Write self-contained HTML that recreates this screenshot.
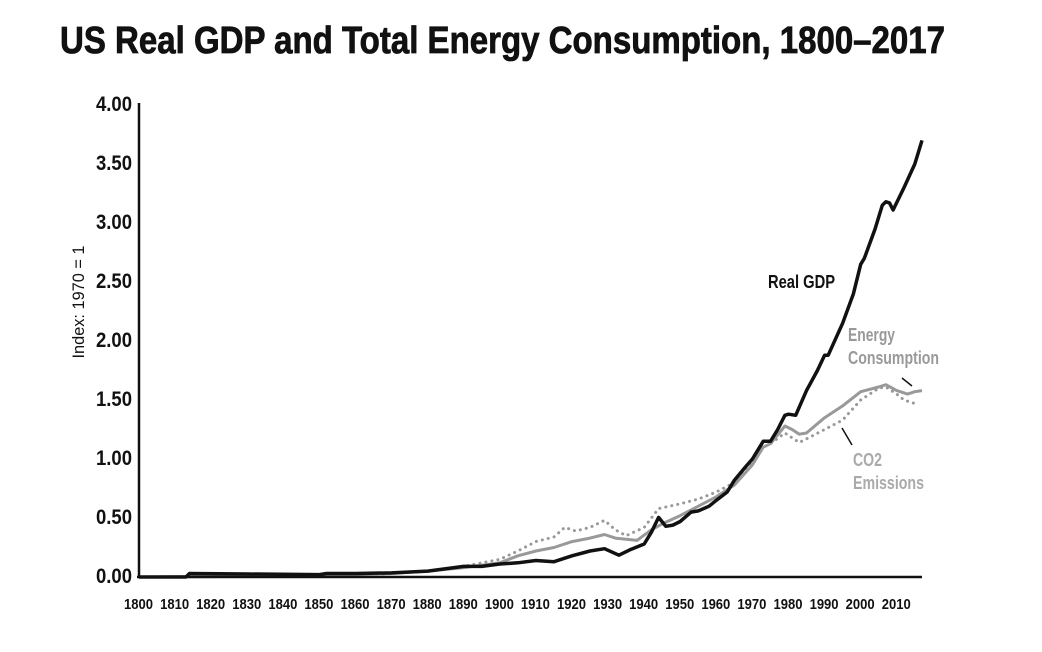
<!DOCTYPE html>
<html><head><meta charset="utf-8">
<style>
body{margin:0;background:#fff;}
svg{display:block;font-family:"Liberation Sans Narrow","Liberation Sans",sans-serif;}
</style></head>
<body>
<svg id="chart" width="1042" height="652" viewBox="0 0 1042 652">
<text x="60" y="53" font-size="38" font-weight="bold" fill="#111" stroke="#111" stroke-width="0.8" textLength="885" lengthAdjust="spacingAndGlyphs">US Real GDP and Total Energy Consumption, 1800–2017</text>
<g id="yticks"></g>
<g id="xticks"></g>
<text transform="translate(84,302) rotate(-90)" text-anchor="middle" font-size="17" fill="#111" textLength="113" lengthAdjust="spacingAndGlyphs">Index: 1970 = 1</text>
<g id="series"></g>
<line x1="139" y1="103" x2="139" y2="578" stroke="#111" stroke-width="2.5"/>
<line x1="137" y1="577" x2="922" y2="577" stroke="#111" stroke-width="2.5"/>
<text x="768" y="288" font-size="18" font-weight="bold" fill="#111" textLength="67" lengthAdjust="spacingAndGlyphs">Real GDP</text>
<text x="848" y="341" font-size="18" font-weight="bold" fill="#999" textLength="47" lengthAdjust="spacingAndGlyphs">Energy</text>
<text x="848" y="364" font-size="18" font-weight="bold" fill="#999" textLength="91" lengthAdjust="spacingAndGlyphs">Consumption</text>
<line x1="902" y1="378" x2="912" y2="386" stroke="#111" stroke-width="1.5"/>
<text x="853" y="466" font-size="18" font-weight="bold" fill="#aaa" textLength="29" lengthAdjust="spacingAndGlyphs">CO2</text>
<text x="853" y="489" font-size="18" font-weight="bold" fill="#aaa" textLength="71" lengthAdjust="spacingAndGlyphs">Emissions</text>
<line x1="842" y1="428" x2="852" y2="445" stroke="#111" stroke-width="1.5"/>
</svg>
<script>
const yTickValues=[0,0.5,1,1.5,2,2.5,3,3.5,4];
const xTickYears=[1800,1810,1820,1830,1840,1850,1860,1870,1880,1890,1900,1910,1920,1930,1940,1950,1960,1970,1980,1990,2000,2010];
const gdpYears=[1800,1813,1814,1830,1850,1852,1860,1870,1880,1890,1895,1900,1905,1910,1915,1920,1925,1929,1933,1936,1940,1942,1944,1946,1948,1950,1953,1955,1958,1960,1963,1965,1968,1970,1973,1975,1977,1979,1980,1982,1985,1988,1990,1991,1995,1998,2000,2001,2004,2006,2007,2008,2009,2012,2015,2016,2017];
const gdpValues=[0.0,0.0,0.03,0.025,0.02,0.03,0.03,0.035,0.05,0.09,0.09,0.11,0.12,0.14,0.13,0.18,0.22,0.24,0.185,0.23,0.28,0.38,0.505,0.43,0.44,0.47,0.55,0.56,0.6,0.65,0.72,0.82,0.93,1.0,1.15,1.15,1.25,1.37,1.38,1.37,1.58,1.75,1.88,1.88,2.15,2.4,2.65,2.70,2.95,3.15,3.18,3.17,3.11,3.3,3.5,3.6,3.70];
const energyYears=[1800,1850,1860,1870,1880,1890,1900,1905,1910,1915,1920,1925,1929,1932,1935,1938,1942,1945,1950,1955,1960,1965,1970,1973,1975,1979,1981,1983,1985,1990,1995,2000,2005,2007,2010,2013,2015,2017];
const energyValues=[0.0,0.01,0.02,0.03,0.05,0.08,0.12,0.18,0.22,0.25,0.30,0.33,0.36,0.33,0.32,0.31,0.40,0.45,0.52,0.60,0.68,0.78,0.95,1.10,1.13,1.28,1.25,1.21,1.22,1.35,1.45,1.57,1.61,1.63,1.58,1.55,1.57,1.58];
const co2Years=[1800,1850,1860,1870,1880,1890,1900,1905,1910,1915,1918,1921,1925,1929,1932,1935,1940,1944,1950,1955,1960,1965,1970,1973,1975,1979,1981,1983,1985,1990,1995,2000,2005,2007,2010,2012,2015];
const co2Values=[0.0,0.01,0.02,0.03,0.05,0.09,0.15,0.22,0.30,0.34,0.42,0.39,0.42,0.48,0.40,0.35,0.42,0.58,0.62,0.66,0.72,0.80,0.98,1.10,1.13,1.22,1.18,1.14,1.17,1.25,1.33,1.50,1.60,1.61,1.55,1.50,1.47];

const NS='http://www.w3.org/2000/svg';
function xs(yr){return 139+(yr-1800)*(922-139)/217;}
function ys(v){return 577-v*118;}
const yt=document.getElementById('yticks');
yTickValues.forEach(v=>{
  const t=document.createElementNS(NS,'text');
  
  
  t.setAttribute('x',96);t.setAttribute('y',ys(v)+6);
  t.setAttribute('font-size','21');t.setAttribute('font-weight','bold');t.setAttribute('fill','#111');
  t.setAttribute('textLength','36');t.setAttribute('lengthAdjust','spacingAndGlyphs');
  t.textContent=v.toFixed(2);yt.appendChild(t);
});
const xt=document.getElementById('xticks');
xTickYears.forEach(yr=>{
  const t=document.createElementNS(NS,'text');
  
  
  t.setAttribute('x',xs(yr)-15);t.setAttribute('y',609);
  t.setAttribute('font-size','15');t.setAttribute('font-weight','bold');t.setAttribute('fill','#111');
  t.setAttribute('textLength','29');t.setAttribute('lengthAdjust','spacingAndGlyphs');
  t.textContent=yr;xt.appendChild(t);
});
const g=document.getElementById('series');
function line(years,vals,stroke,w,dash,name){
  const p=document.createElementNS(NS,'polyline');
  
  
  p.setAttribute('points',years.map((y,i)=>xs(y).toFixed(1)+','+ys(vals[i]).toFixed(1)).join(' '));
  p.setAttribute('fill','none');p.setAttribute('stroke',stroke);p.setAttribute('stroke-width',w);
  p.setAttribute('stroke-linejoin','round');
  if(dash){p.setAttribute('stroke-dasharray',dash);p.setAttribute('stroke-linecap','round');}
  g.appendChild(p);
}
line(co2Years,co2Values,'#999',3,'0.1 6','co2-emissions-line');
line(energyYears,energyValues,'#999',3,null,'energy-consumption-line');
line(gdpYears,gdpValues,'#111',3.5,null,'real-gdp-line');
</script>
</body></html>
